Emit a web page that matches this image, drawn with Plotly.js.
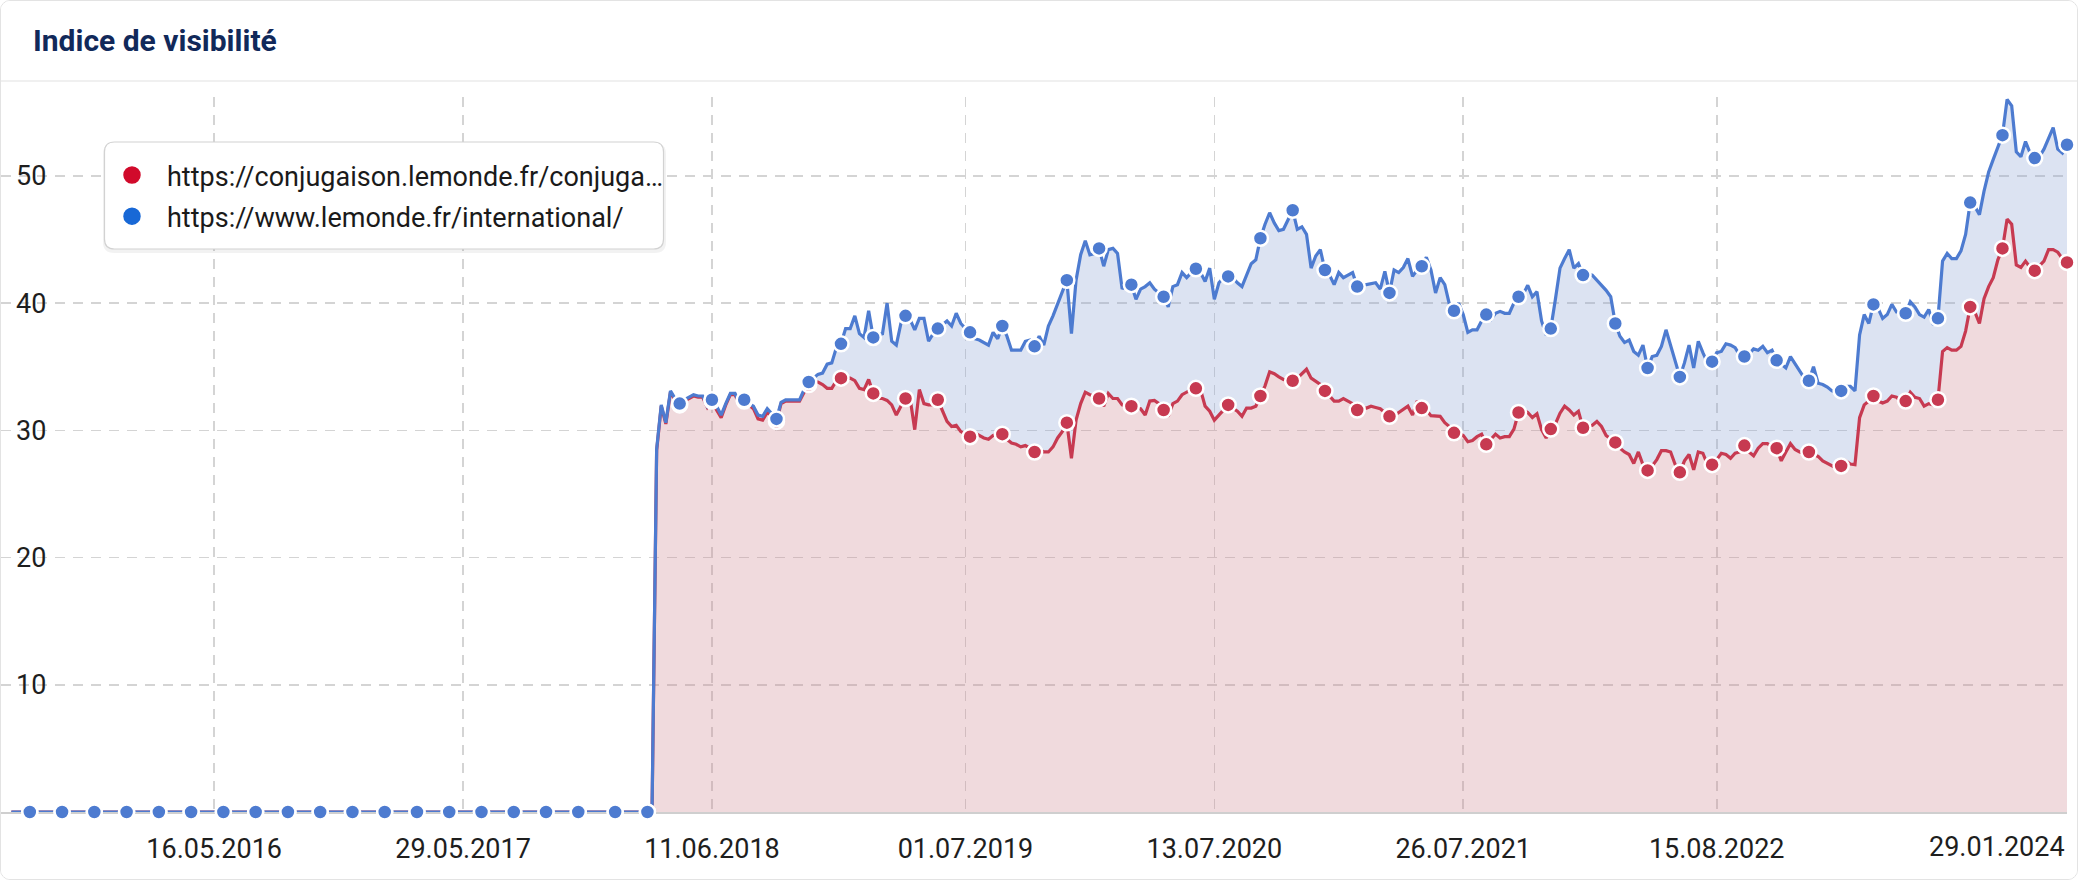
<!DOCTYPE html>
<html>
<head>
<meta charset="utf-8">
<script src="https://cdn.plot.ly/plotly-3.0.1.min.js"></script>
<style>
  html, body { margin: 0; padding: 0; background: #fff; }
  #card {
    width: 2078px; height: 880px; box-sizing: border-box;
    border: 1px solid #e3e3e3; border-radius: 10px; overflow: hidden;
  }
</style>
</head>
<body>
<div id="card"><div id="chart"></div></div>
<script>
// Weekly visibility index (Mondays), 13.07.2015 -> 29.01.2024
const firstWeek = '2015-07-13';
const weekCount = 447;
const missingWeeks = ['2017-12-18'];

// both domains are at zero before March 2018
const zeroPhase = [
  0,0,0,0,0,0,0,0,0,0,0,0,0,0,0,0,0,0,0,0,
  0,0,0,0,0,0,0,0,0,0,0,0,0,0,0,0,0,0,0,0,
  0,0,0,0,0,0,0,0,0,0,0,0,0,0,0,0,0,0,0,0,
  0,0,0,0,0,0,0,0,0,0,0,0,0,0,0,0,0,0,0,0,
  0,0,0,0,0,0,0,0,0,0,0,0,0,0,0,0,0,0,0,0,
  0,0,0,0,0,0,0,0,0,0,0,0,0,0,0,0,0,0,0,0,
  0,0,0,0,0,0,0,0,0,0,0,0,0,0,0,0,0,0,0
];

// from 19.03.2018
const conjugaisonValues = [
  28.4, 31.9, 30.5, 33.0, 32.4, 32.0, 32.3, 32.5, 32.7, 32.6, 32.6, 31.8,
  32.3, 31.6, 31.0, 32.0, 32.8, 32.8, 32.0, 32.3, 32.0, 31.7,
  30.9, 30.8, 31.4, 31.1, 30.7, 32.1, 32.3, 32.3, 32.3, 32.3,
  33.0, 33.6, 33.8, 33.8, 33.6, 33.3, 33.3, 33.9, 34.1, 34.1,
  34.1, 33.9, 33.3, 33.2, 34.0, 32.9, 32.5, 32.5, 32.35, 32.0,
  31.2, 31.9, 32.5, 32.5, 30.05, 33.2, 32.1, 32.0, 32.0, 32.4,
  31.6, 30.7, 30.3, 30.4, 29.9, 29.7, 29.5, 29.8, 29.6, 29.4,
  29.3, 29.6, 29.7, 29.7, 29.3, 29.0, 28.9, 28.7, 28.8, 28.6,
  28.3, 28.5, 28.3, 28.3, 28.7, 29.4, 29.9, 30.6, 27.8, 30.8,
  32.1, 33.0, 32.8, 32.7, 32.5, 31.9, 32.9, 32.5, 32.5, 32.0,
  31.9, 31.9, 31.75, 31.7, 31.2, 32.3, 32.35, 32.1, 31.6, 31.1,
  32.1, 32.3, 32.8, 33.0, 33.2, 33.3, 33.2, 31.9, 31.5, 30.8,
  31.2, 31.6, 32.0, 31.75, 31.5, 31.1, 31.75, 31.75, 31.9, 32.7,
  33.5, 34.6, 34.45, 34.2, 34.0, 33.9, 33.9, 34.1, 34.45, 34.8,
  34.1, 33.85, 33.6, 33.1, 32.7, 32.3, 32.3, 32.5, 32.3, 32.1,
  31.6, 31.75, 31.75, 31.9, 31.8, 31.7, 31.4, 31.1, 31.15, 31.4,
  31.6, 31.9, 31.2, 32.3, 31.75, 31.6, 31.15, 31.1, 31.1, 30.6,
  30.3, 29.8, 29.8, 29.6, 29.1, 29.2, 29.5, 29.7, 28.9, 29.3,
  29.7, 29.4, 29.5, 29.5, 30.1, 31.4, 31.6, 31.4, 31.0, 31.3,
  30.05, 29.4, 30.1, 30.5, 31.35, 31.9, 31.6, 31.2, 31.5, 30.2,
  30.3, 30.4, 30.7, 30.3, 29.6, 29.3, 29.05, 28.6, 28.3, 28.1,
  27.4, 28.3, 27.3, 26.85, 27.2, 27.7, 28.4, 28.4, 28.3, 27.3,
  26.7, 27.6, 28.1, 26.9, 28.3, 28.2, 27.3, 27.3, 27.7, 28.2,
  28.1, 27.8, 28.2, 28.3, 28.8, 28.3, 28.0, 28.6, 28.95, 28.95,
  28.7, 28.6, 27.6, 28.3, 28.95, 28.5, 28.3, 28.2, 28.3, 28.1,
  27.95, 27.6, 27.4, 27.2, 27.03, 27.2, 27.6, 27.35, 27.3, 31.0,
  32.0, 32.3, 32.7, 32.3, 32.15, 32.3, 32.7, 32.6, 32.3, 32.3,
  33.0, 32.6, 32.5, 31.9, 32.1, 32.0, 32.4, 36.2, 36.5, 36.3,
  36.3, 36.6, 37.8, 39.7, 39.3, 38.4, 40.35, 41.3, 42.0, 43.4,
  44.3, 46.6, 46.2, 43.0, 42.8, 43.3, 42.8, 42.55, 42.9, 43.3,
  44.2, 44.2, 44.0, 43.5, 43.2
];

const internationalValues = [
  28.5, 32.0, 30.6, 33.1, 32.5, 32.1, 32.4, 32.6, 32.8, 32.7, 32.7, 31.9,
  32.4, 31.9, 31.2, 32.1, 32.9, 32.9, 32.1, 32.4, 32.1, 31.9,
  31.2, 31.1, 31.7, 31.3, 30.9, 32.2, 32.4, 32.4, 32.4, 32.4,
  33.2, 33.8, 34.1, 34.4, 34.5, 35.2, 35.3, 36.5, 36.8, 38.0,
  38.0, 39.0, 37.6, 37.3, 39.4, 37.3, 37.5, 37.6, 40.0, 37.0,
  36.7, 38.4, 39.0, 38.7, 37.9, 38.8, 38.8, 37.0, 37.6, 38.0,
  38.3, 38.6, 38.2, 39.2, 38.4, 38.0, 37.7, 37.2, 37.1, 36.9,
  36.7, 37.7, 37.2, 38.2, 37.4, 36.3, 36.3, 36.3, 37.0, 37.1,
  36.6, 37.4, 36.7, 38.2, 39.0, 39.9, 40.9, 41.8, 37.6, 41.8,
  43.8, 44.9, 43.8, 43.9, 44.3, 42.9, 44.2, 44.3, 43.9, 41.1,
  41.7, 41.45, 40.3, 41.1, 41.3, 41.6, 41.1, 40.8, 40.5, 39.7,
  41.3, 41.45, 42.4, 42.0, 42.4, 42.7, 42.4, 41.7, 42.75, 40.3,
  41.6, 42.0, 42.1, 42.0, 41.6, 41.3, 42.2, 43.1, 43.4, 45.1,
  46.2, 47.1, 46.3, 45.7, 45.8, 46.6, 47.3, 45.8, 46.0, 45.4,
  42.75, 43.7, 44.2, 42.6, 42.2, 41.45, 42.4, 42.0, 42.2, 42.4,
  41.3, 41.45, 41.45, 41.5, 41.6, 41.1, 42.5, 40.8, 42.6, 42.4,
  42.8, 43.5, 42.1, 42.6, 42.9, 43.6, 42.6, 40.8, 42.0, 41.45,
  39.9, 39.4, 40.0, 39.1, 37.7, 37.9, 37.9, 38.6, 39.1, 38.7,
  39.2, 39.35, 39.2, 39.2, 40.0, 40.5, 40.7, 41.4, 40.5, 40.9,
  38.6, 37.5, 38.0, 40.3, 42.75, 43.5, 44.2, 42.75, 43.1, 42.2,
  42.3, 42.2, 41.8, 41.4, 41.0, 40.5, 38.4, 37.4, 36.9, 37.1,
  36.2, 35.9, 36.7, 34.9, 35.8, 35.9, 36.6, 37.9, 36.7, 35.4,
  34.2, 35.3, 36.7, 34.9, 37.0, 36.1, 35.3, 35.4, 36.1, 36.2,
  36.8, 36.7, 36.5, 35.9, 35.8, 36.0, 36.4, 36.3, 36.6, 36.1,
  36.3, 35.5, 35.2, 34.9, 35.8, 35.2, 34.6, 34.1, 33.9, 35.0,
  33.7, 33.6, 33.4, 33.1, 33.0, 33.1, 33.45, 33.45, 33.1, 37.5,
  39.1, 38.4, 39.9, 39.6, 38.8, 39.1, 39.9, 39.3, 39.3, 39.2,
  40.1, 39.7, 39.1, 38.9, 39.5, 38.3, 38.8, 43.3, 43.9, 43.5,
  43.5, 44.1, 45.4, 47.9, 47.6, 46.95, 48.8, 50.3, 51.3, 52.3,
  53.2, 56.0, 55.5, 51.9, 51.5, 52.7, 51.8, 51.4, 51.5, 52.1,
  53.0, 53.8, 52.1, 51.8, 52.45
];

const seriesNames = [
  'https://conjugaison.lemonde.fr/conjuga…',
  'https://www.lemonde.fr/international/'
];
const tickDates = ['2016-05-16', '2017-05-29', '2018-06-11', '2019-07-01',
                   '2020-07-13', '2021-07-26', '2022-08-15', '2024-01-29'];
const tickLabels = ['16.05.2016', '29.05.2017', '11.06.2018', '01.07.2019',
                    '13.07.2020', '26.07.2021', '15.08.2022', '29.01.2024'];
const yTicks = [10, 20, 30, 40, 50];

const RED = '#c73a51', BLUE = '#4d7bd0';
const FONT = 'Roboto, "Open Sans", sans-serif';

function weeklyDates(start, count, skip) {
  let out = [];
  let t = Date.parse(start + 'T00:00:00Z');
  for (let i = 0; i < count; i++) {
    let d = new Date(t + i * 7 * 86400000).toISOString().slice(0, 10);
    if (!skip.includes(d)) out.push(d);
  }
  return out;
}

const dates = weeklyDates(firstWeek, weekCount, missingWeeks);
const red = zeroPhase.concat(conjugaisonValues);
const blue = zeroPhase.concat(internationalValues);

// a dot every 7th week, counted back from the latest value
const dotIdx = dates.map((d, i) => i).filter(i => (dates.length - 1 - i) % 7 === 0);
const pick = (arr) => dotIdx.map(i => arr[i]);

let traces = [
  {
    x: dates, y: red, mode: 'lines', line: {color: RED, width: 3.2},
    fill: 'tozeroy', fillcolor: 'rgba(205,132,142,0.3)',
    showlegend: false, hoverinfo: 'skip'
  },
  {
    x: dates, y: blue, mode: 'lines', line: {color: BLUE, width: 3.2},
    fill: 'tonexty', fillcolor: 'rgba(138,162,212,0.3)',
    showlegend: false, hoverinfo: 'skip'
  },
  {
    x: pick(dates), y: pick(red), mode: 'markers', showlegend: false,
    marker: {color: RED, size: 15, line: {color: '#fff', width: 2.5}},
    cliponaxis: false
  },
  {
    x: pick(dates), y: pick(blue), mode: 'markers', showlegend: false,
    marker: {color: BLUE, size: 15, line: {color: '#fff', width: 2.5}},
    cliponaxis: false
  },
  {
    x: [null], y: [null], mode: 'markers', name: seriesNames[0], legendgroup: 'a',
    marker: {color: '#d10a2b', size: 16, line: {color: '#d10a2b', width: 1.5}}
  },
  {
    x: [null], y: [null], mode: 'markers', name: seriesNames[1], legendgroup: 'b',
    marker: {color: '#1868d6', size: 16, line: {color: '#1868d6', width: 1.5}}
  }
];

// rounded legend frame, drawn in pixels around an anchor point
function roundRect(w, h, r) {
  let x = w / 2, y = h / 2;
  return `M ${-x + r},${-y} L ${x - r},${-y} Q ${x},${-y} ${x},${-y + r} ` +
         `L ${x},${y - r} Q ${x},${y} ${x - r},${y} L ${-x + r},${y} ` +
         `Q ${-x},${y} ${-x},${y - r} L ${-x},${-y + r} Q ${-x},${-y} ${-x + r},${-y} Z`;
}

const plotW = 2066, plotH = 715, mT = 96, mB = 67;
const px = (v) => v / plotW;
const py = (layoutY) => (878 - mB - layoutY) / plotH;

let layout = {
  width: 2076, height: 878,
  margin: {l: 0, r: 10, t: mT, b: mB},
  paper_bgcolor: '#fff', plot_bgcolor: '#fff',
  font: {family: FONT, color: '#1e1e1e', size: 27},
  title: {
    text: 'Indice de visibilité',
    font: {family: FONT, size: 30, weight: 700, color: '#11295a'},
    xref: 'container', x: 32 / 2076, xanchor: 'left',
    yref: 'container', y: 1 - 39 / 878, yanchor: 'middle'
  },
  xaxis: {
    type: 'date',
    range: ['2015-06-27 06:00', '2024-01-29'],
    tickvals: tickDates,
    ticktext: tickLabels.slice(0, -1).concat(['']),
    ticks: '', ticklabelstandoff: 12,
    tickfont: {size: 27, color: '#1e1e1e'},
    showgrid: true, gridcolor: '#d4d4d4', gridwidth: 1.6, griddash: '10px,8px',
    showline: true, linecolor: '#cfcfcf', linewidth: 2, layer: 'below traces',
    zeroline: false, fixedrange: true
  },
  yaxis: {
    range: [0, 56.2],
    tickvals: yTicks,
    ticks: '', ticklabelposition: 'inside', ticklabelstandoff: 12,
    tickfont: {size: 27, color: '#1e1e1e'},
    showgrid: true, gridcolor: '#d4d4d4', gridwidth: 1.6, griddash: '10px,8px',
    zeroline: false, showline: false, fixedrange: true
  },
  legend: {
    x: px(96), y: py(150), xanchor: 'left', yanchor: 'top',
    traceorder: 'grouped', tracegroupgap: 3,
    bgcolor: 'rgba(0,0,0,0)', borderwidth: 0,
    font: {family: FONT, size: 27, color: '#1a1a1a'},
    itemwidth: 60
  },
  annotations: [{
    text: tickLabels[tickLabels.length - 1],
    x: tickDates[tickDates.length - 1], xref: 'x', xanchor: 'right',
    y: -35 / plotH, yref: 'paper', yanchor: 'middle',
    showarrow: false, font: {family: FONT, size: 27, color: '#1e1e1e'}
  }],
  shapes: [
    {
      type: 'line', xref: 'paper', yref: 'paper',
      x0: -1 / plotW, x1: 2077 / plotW, y0: py(80), y1: py(80),
      line: {color: '#ebebeb', width: 1.5}, layer: 'above'
    },
    {
      type: 'path', layer: 'above',
      xref: 'paper', yref: 'paper', xsizemode: 'pixel', ysizemode: 'pixel',
      xanchor: px(383.5), yanchor: py(197),
      path: roundRect(563, 110, 11),
      fillcolor: 'rgba(0,0,0,0.05)', line: {width: 0}
    },
    {
      type: 'path', layer: 'above',
      xref: 'paper', yref: 'paper', xsizemode: 'pixel', ysizemode: 'pixel',
      xanchor: px(383), yanchor: py(194.5),
      path: roundRect(559, 107, 10),
      fillcolor: '#ffffff', line: {color: '#d2d2d2', width: 1.2}
    }
  ]
};

Plotly.newPlot('chart', traces, layout, {displayModeBar: false, staticPlot: true});
</script>
</body>
</html>
